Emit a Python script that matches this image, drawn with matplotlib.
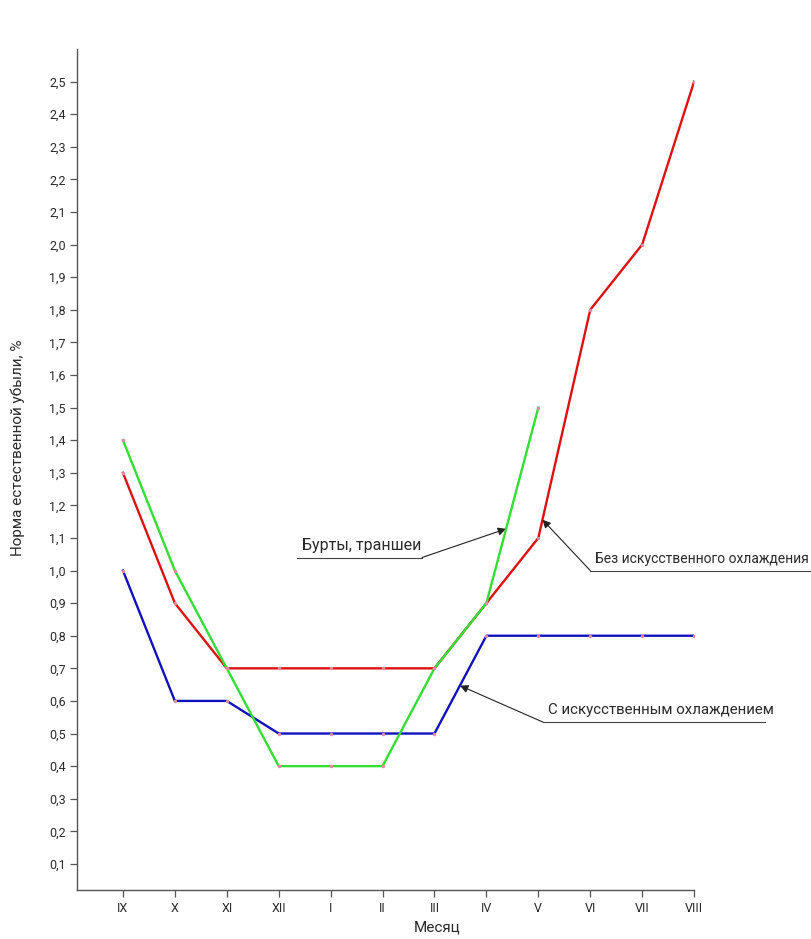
import matplotlib.pyplot as plt
from matplotlib.ticker import FixedLocator

# Данные
months = ['IX', 'X', 'XI', 'XII', 'I', 'II', 'III', 'IV', 'V', 'VI', 'VII', 'VIII']
no_cooling = [1.3, 0.9, 0.7, 0.7, 0.7, 0.7, 0.7, 0.9, 1.1, 1.8, 2.0, 2.5]
heaps = [1.4, 1.0, 0.7, 0.4, 0.4, 0.4, 0.7, 0.9, 1.5]
with_cooling = [1.0, 0.6, 0.6, 0.5, 0.5, 0.5, 0.5, 0.8, 0.8, 0.8, 0.8, 0.8]
yticks = [round(0.1 * i, 1) for i in range(1, 26)]

font = {'family': ['Roboto', 'DejaVu Sans'], 'weight': 'normal'}
gray = '#555555'
txt = '#2a2a2a'

fig = plt.figure(figsize=(8.12, 9.39), dpi=100)
ax = fig.add_axes([0.0948, 0.0522, 0.760, 0.8956])

x_all = list(range(len(months)))
ax.plot(x_all, no_cooling, color='#dd1111', lw=1.7, solid_joinstyle='round', zorder=3)
ax.plot(x_all[:len(heaps)], heaps, color='#33dd33', lw=1.7, solid_joinstyle='round', zorder=4)
ax.plot(x_all, with_cooling, color='#1111bb', lw=1.7, solid_joinstyle='round', zorder=3)

# точки
for ys in (no_cooling, heaps, with_cooling):
    ax.plot(x_all[:len(ys)], ys, ls='none', marker='o', ms=2.5, color='#e08aa8',
            markeredgewidth=0, zorder=5)

ax.set_xlim(-0.885, 11)
ax.set_ylim(0.02, 2.6)
ax.xaxis.set_major_locator(FixedLocator(x_all))
ax.set_xticklabels(months, fontsize=9, color=txt, **font)
ax.yaxis.set_major_locator(FixedLocator(yticks))
ax.set_yticklabels([f'{v:.1f}'.replace('.', ',') for v in yticks], fontsize=9, color=txt, **font)
ax.tick_params(axis='both', color=gray, length=5, width=0.9, direction='out')
ax.tick_params(axis='y', pad=3)
ax.tick_params(axis='x', pad=4)

for s in ('top', 'right'):
    ax.spines[s].set_visible(False)
for s in ('left', 'bottom'):
    ax.spines[s].set_color(gray)
    ax.spines[s].set_linewidth(1.0)

ax.set_xlabel('Месяц', fontsize=11, color=txt, **font)
ax.set_ylabel('Норма естественной убыли, %', fontsize=11, color=txt, **font)
ax.xaxis.set_label_coords(0.583, -0.045)
ax.yaxis.set_label_coords(-0.096, 0.526)
ax.xaxis.label.set_va('center')
ax.yaxis.label.set_va('center')

# Подписи с выносками
arrow = dict(arrowstyle='-|>', color='#222222', lw=0.8, mutation_scale=12, shrinkA=0, shrinkB=0)
notes = [
    ('Бурты, траншеи', (7.38, 1.128), 3.35, 5.76, 1.04, 11.5),
    ('Без искусственного охлаждения', (8.08, 1.156), 9.0, 13.3, 1.0, 10.0),
    ('С искусственным охлаждением', (6.49, 0.647), 8.09, 12.37, 0.535, 10.8),
]
for label, tip, x0, x1, yl, fs in notes:
    ax.plot([x0, x1], [yl, yl], color='#444444', lw=0.8, clip_on=False)
    ax.annotate('', xy=tip, xytext=(x1 if x1 < tip[0] else x0, yl), arrowprops=arrow)
    ax.text(x0 + 0.1, yl + 0.015, label, fontsize=fs, color=txt, ha='left', va='bottom',
            clip_on=False, **font)

fig.savefig('out.png', dpi=100)
